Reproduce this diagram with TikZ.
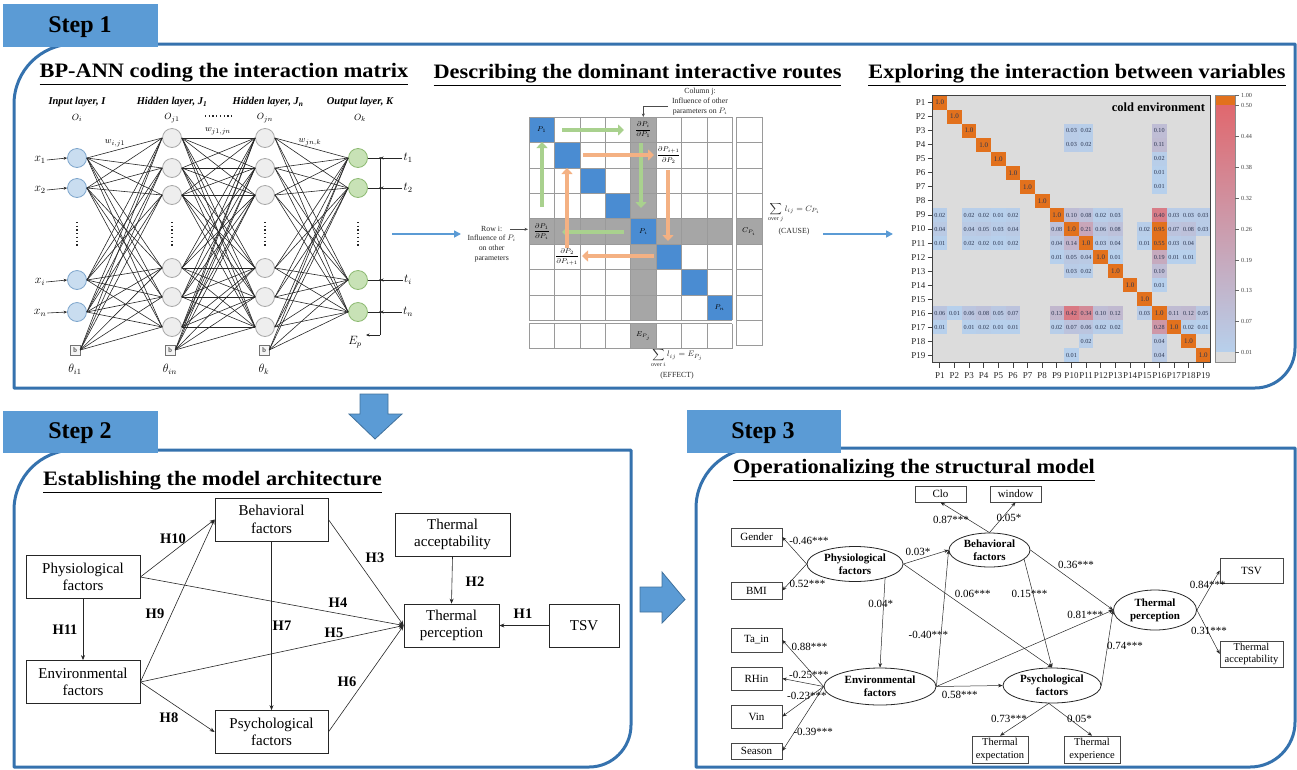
\documentclass[tikz,border=0pt]{standalone}
\usepackage{fontspec}
\setmainfont{Liberation Serif}
\usepackage{amsmath}
\usepackage{graphicx}
\usetikzlibrary{arrows.meta,shapes.geometric,calc}

\newcommand{\myfs}[2]{\fontsize{#1}{#2}\selectfont}
\newcommand{\paneltitle}[1]{\scalebox{1.09}[1]{\underline{\textbf{#1}}}}

\definecolor{framecol}{HTML}{3572AE}
\definecolor{tabcol}{HTML}{5B9BD5}
\definecolor{tabedge}{HTML}{41719C}
\definecolor{innode}{HTML}{C9DDF0}
\definecolor{inedge}{HTML}{7EA6CC}
\definecolor{hidnode}{HTML}{EEEEEE}
\definecolor{hidedge}{HTML}{A8A8A8}
\definecolor{outnode}{HTML}{C8E2B6}
\definecolor{outedge}{HTML}{8DBA72}
\definecolor{mxblue}{HTML}{4A8CD2}
\definecolor{mxgray}{HTML}{A6A6A6}
\definecolor{mxgrid}{HTML}{9A9A9A}
\definecolor{mxgreen}{HTML}{A9D18E}
\definecolor{mxorange}{HTML}{F4B183}
\definecolor{hmbg}{HTML}{DCDCDC}
\definecolor{hmorange}{HTML}{E2711D}
\definecolor{hmred}{HTML}{E0686E}
\definecolor{hmblue}{HTML}{B7D0EC}
\definecolor{hmtext}{HTML}{2B3550}
\definecolor{linecol}{HTML}{262626}

\tikzset{
  panel/.style={draw=framecol, line width=3pt, line join=round},
  steptab/.style={fill=tabcol},
  steplabel/.style={font=\bfseries\myfs{24}{26}, inner sep=0pt},
  titletext/.style={font=\myfs{20.5}{22}, inner sep=0pt, anchor=base},
  blockarrow/.style={fill=tabcol, draw=tabedge, line width=0.8pt, line join=miter},
  panelarrow/.style={draw=tabcol, line width=1.6pt, -{Triangle[length=7pt,width=7pt]}},
  annline/.style={draw=linecol, line width=0.6pt},
  inneuron/.style={circle, minimum size=19pt, inner sep=0pt, fill=innode, draw=inedge, line width=0.8pt},
  hidneuron/.style={inneuron, fill=hidnode, draw=hidedge},
  outneuron/.style={inneuron, fill=outnode, draw=outedge},
  biasbox/.style={draw=black!55, fill=black!4, minimum size=10pt, inner sep=0pt, font=\myfs{7}{8}},
  layerhead/.style={font=\bfseries\itshape\myfs{10.5}{12}, inner sep=0pt},
  annmath/.style={font=\myfs{11.5}{12}, inner sep=1pt},
  smallmath/.style={font=\myfs{9.5}{10}, inner sep=0pt},
  dotcol/.style={draw=linecol, line width=1.3pt, dash pattern=on 1.3pt off 2.4pt},
  mxline/.style={draw=mxgrid, line width=0.6pt},
  fatgreen/.style={draw=mxgreen, line width=4.5pt, -{Triangle[length=6pt,width=11pt]}},
  fatorange/.style={fatgreen, draw=mxorange},
  mxnote/.style={font=\myfs{7.8}{9.8}, align=center, inner sep=0pt, text=black!85},
  mxsum/.style={font=\myfs{8.5}{10}, align=center, inner sep=0pt, text=black!85},
  mxcell/.style={font=\myfs{7}{7.5}, inner sep=0pt},
  ptr/.style={draw=black!70, line width=0.5pt, -{Stealth[length=3.5pt,width=3pt]}},
  hmval/.style={font=\myfs{6.2}{7}, text=hmtext, inner sep=0pt},
  hmdiag/.style={font=\myfs{7}{8}, text=hmtext, inner sep=0pt},
  hmlab/.style={font=\myfs{9}{10}, inner sep=0pt, text=black!85},
  hmtick/.style={draw=black!75, line width=0.8pt},
  s2box/.style={draw=linecol, line width=0.8pt, align=center, font=\myfs{15}{17.5}, inner sep=0pt},
  s2edge/.style={draw=linecol, line width=0.6pt, -{Stealth[length=5pt,width=4pt]}},
  s2lab/.style={font=\bfseries\myfs{14.5}{16}, inner sep=0pt},
  s3box/.style={draw=linecol!85, line width=0.6pt, font=\myfs{11}{12}, align=center, inner sep=0pt},
  s3lat/.style={ellipse, draw=linecol, line width=0.8pt, font=\bfseries\myfs{11}{13}, align=center, inner sep=0pt},
  s3edge/.style={draw=linecol, line width=0.5pt, -{Stealth[length=4.5pt,width=3.5pt]}},
  s3coef/.style={font=\myfs{11}{12}, inner sep=0pt},
}

\begin{document}
\begin{tikzpicture}[x=1pt, y=-1pt]
\useasboundingbox (0,0) rectangle (1297,769);

% ---------- panel frames ----------
\draw[panel] (14,388) -- (14,104) arc[start angle=180,end angle=270,radius=60] -- (1295,44) -- (1295,348) arc[start angle=0,end angle=90,radius=40] -- cycle;
\draw[panel] (14,767) -- (14,510) arc[start angle=180,end angle=270,radius=60] -- (631,450) -- (631,725) arc[start angle=0,end angle=90,radius=42] -- cycle;
\draw[panel] (696,767) -- (696,508) arc[start angle=180,end angle=270,radius=60] -- (1295,448) -- (1295,722) arc[start angle=0,end angle=90,radius=45] -- cycle;

% ---------- step tabs ----------
\fill[steptab] (3,4) rectangle (158,47);
\node[steplabel] (st1) at (80,27) {Step 1};
\fill[steptab] (3,411) rectangle (158,453);
\node[steplabel] (st2) at (80,433) {Step 2};
\fill[steptab] (687,410) rectangle (841,453);
\node[steplabel] (st3) at (763,433) {Step 3};

% ---------- block arrows between steps ----------
\draw[blockarrow] (360,394) -- (388,394) -- (388,414) -- (402,414) -- (375,439) -- (349,414) -- (360,414) -- cycle;
\draw[blockarrow] (640,587) -- (662,587) -- (662,572) -- (685,599.5) -- (662,623) -- (662,612) -- (640,612) -- cycle;

% ---------- panel titles ----------
\node[titletext] (t1a) at (224,77) {\paneltitle{BP-ANN coding the interaction matrix}};
\node[titletext] (t1b) at (637.5,78) {\paneltitle{Describing the dominant interactive routes}};
\node[titletext] (t1c) at (1077,78) {\paneltitle{Exploring the interaction between variables}};
\node[titletext] (t2) at (212.5,485) {\paneltitle{Establishing the model architecture}};
\node[titletext] (t3) at (914,473) {\paneltitle{Operationalizing the structural model}};

% ================= BP-ANN =================
\node[layerhead] (lh1) at (77,102) {Input layer, I};
\node[layerhead] (lh2) at (172,102) {Hidden layer, J\textsubscript{1}};
\node[layerhead] (lh3) at (268,102) {Hidden layer, J\textsubscript{\textit{n}}};
\node[layerhead] (lh4) at (360,102) {Output layer, K};
\node[smallmath] (ol1) at (77,118) {$O_i$};
\node[smallmath] (ol2) at (172,118) {$O_{j1}$};
\node[smallmath] (ol3) at (265,118) {$O_{jn}$};
\node[smallmath] (ol4) at (360,118) {$O_k$};
\node[smallmath] (wl1) at (115,143) {$w_{i,j1}$};
\node[smallmath] (wl2) at (218,131) {$w_{j1,jn}$};
\node[smallmath] (wl3) at (310,142) {$w_{jn,k}$};
\draw[dotcol] (205,116) -- (233,116);

\foreach \n/\y in {1/158,2/188,3/280,4/312} \node[inneuron] (i\n) at (77,\y) {};
\foreach \n/\y in {1/138,2/168,3/195,4/268,5/297,6/327} {
  \node[hidneuron] (h\n) at (172,\y) {};
  \node[hidneuron] (g\n) at (265,\y) {};
}
\foreach \n/\y in {1/158,2/188,3/280,4/312} \node[outneuron] (o\n) at (358,\y) {};
\node[biasbox] (bi) at (75,350) {b};
\node[biasbox] (bh) at (170,350) {b};
\node[biasbox] (bg) at (264,350) {b};

\foreach \a in {i1,i2,i3,i4,bi} \foreach \b in {h1,h2,h3,h4,h5,h6} \draw[annline] (\a.east) -- (\b.west);
\foreach \a in {h1,h2,h3,h4,h5,h6,bh} \foreach \b in {g1,g2,g3,g4,g5,g6} \draw[annline] (\a.east) -- (\b.west);
\foreach \a in {g1,g2,g3,g4,g5,g6,bg} \foreach \b in {o1,o2,o3,o4} \draw[annline] (\a.east) -- (\b.west);

\foreach \x in {77,172,265,358} \draw[dotcol] (\x,222) -- (\x,246);

\node[annmath] (th1) at (75,369) {$\theta_{i1}$};
\node[annmath] (th2) at (170,369) {$\theta_{in}$};
\node[annmath] (th3) at (264,369) {$\theta_{k}$};

\foreach \n/\y/\lab in {1/160/x_1,2/190/x_2,3/282/x_i,4/313/x_n} {
  \node[annmath] (x\n) at (40,\y) {$\lab$};
  \draw[annline,-{Stealth[length=3.5pt,width=3pt]}] (x\n.east) -- (i\n.west);
}
\foreach \n/\y/\lab in {1/158/t_1,2/188/t_2,3/280/t_i,4/312/t_n} {
  \node[annmath] (tt\n) at (408,\y) {$\lab$};
  \coordinate (jn\n) at (380,\y);
  \draw[annline] (o\n.east) -- (jn\n);
  \draw[annline,-{Stealth[length=3.5pt,width=3pt]}] (tt\n.west) -- (jn\n);
  \fill[linecol] (jn\n) circle[radius=1];
}
\coordinate (jnb) at (380,335);
\coordinate (epa) at (366,335);
\draw[annline] (jn1) -- (jnb);
\draw[annline,-{Stealth[length=3.5pt,width=3pt]}] (jnb) -- (epa);
\node[annmath] (ep) at (355,342) {$E_p$};

% ================= interaction matrix =================
% shaded cross of row i / column j
\fill[mxgray] (630.6,117) rectangle (656,320.2);
\fill[mxgray] (630.6,323.5) rectangle (656,348.5);
\fill[mxgray] (529,218.6) rectangle (732.2,244);
\fill[mxgray] (736,218.6) rectangle (762,244);
\foreach \i in {0,...,7} \fill[mxblue] ({529+\i*25.4},{117+\i*25.4}) rectangle ++(25.4,25.4);
% grid
\foreach \i in {0,...,8} {
  \draw[mxline] ({529+\i*25.4},117) -- ({529+\i*25.4},320.2);
  \draw[mxline] (529,{117+\i*25.4}) -- (732.2,{117+\i*25.4});
  \draw[mxline] ({529+\i*25.4},323.5) -- ({529+\i*25.4},348.5);
  \draw[mxline] (736,{117+\i*25.4}) -- (762,{117+\i*25.4});
}
\draw[mxline] (529,323.5) -- (732.2,323.5);
\draw[mxline] (529,348.5) -- (732.2,348.5);
\draw[mxline] (736,117) -- (736,345) -- (762,345) -- (762,117);

\node[mxcell] (pc1) at (541.7,129.7) {$P_1$};
\node[mxcell] (pci) at (643.3,231.3) {$P_i$};
\node[mxcell] (pcn) at (719.5,307.5) {$P_n$};
\node[mxcell] (f1) at (643.3,129.7) {$\dfrac{\partial P_i}{\partial P_1}$};
\node[mxcell] (f2) at (668.7,155.1) {$\dfrac{\partial P_{i+1}}{\partial P_2}$};
\node[mxcell] (f3) at (541.7,231.3) {$\dfrac{\partial P_1}{\partial P_i}$};
\node[mxcell] (f4) at (567.1,256.7) {$\dfrac{\partial P_2}{\partial P_{i+1}}$};
\node[mxcell] (cpi) at (749,231.3) {$C_{P_i}$};
\node[mxcell] (epj) at (643.3,336) {$E_{P_j}$};

% dominant routes
\coordinate (ga1) at (562,130);   \coordinate (ga2) at (624,130);
\coordinate (gb1) at (641,143);   \coordinate (gb2) at (641,208);
\coordinate (gc1) at (624,232);   \coordinate (gc2) at (562,232);
\coordinate (gd1) at (542,207);   \coordinate (gd2) at (542,142);
\draw[fatgreen] (ga1) -- (ga2);
\draw[fatgreen] (gb1) -- (gb2);
\draw[fatgreen] (gc1) -- (gc2);
\draw[fatgreen] (gd1) -- (gd2);
\coordinate (oa1) at (583,155);   \coordinate (oa2) at (654,155);
\coordinate (ob1) at (668,170);   \coordinate (ob2) at (668,241);
\coordinate (oc1) at (654,256);   \coordinate (oc2) at (582,256);
\coordinate (od1) at (567,248);   \coordinate (od2) at (567,168);
\draw[fatorange] (oa1) -- (oa2);
\draw[fatorange] (ob1) -- (ob2);
\draw[fatorange] (oc1) -- (oc2);
\draw[fatorange] (od1) -- (od2);

\node[mxnote] (colj) at (700,101.5) {Column j:\\Influence of other\\parameters on $P_i$};
\coordinate (cjs) at (668,106.5);
\coordinate (cje) at (643.3,117);
\draw[ptr] (cjs) -| (cje);
\node[mxnote] (rowi) at (491.7,244) {Row i:\\Influence of $P_i$\\on other\\parameters};
\coordinate (ris) at (510,229.3);
\coordinate (rie) at (528,229.3);
\draw[ptr] (ris) -- (rie);
\node[mxsum] (sumc) at (794,213) {$\displaystyle\sum_{\mathrm{over}\,j} l_{ij}=C_{P_i}$};
\node[mxnote] (cause) at (794,232) {(CAUSE)};
\node[mxsum] (sume) at (677,358) {$\displaystyle\sum_{\mathrm{over}\,i} l_{ij}=E_{P_j}$};
\node[mxnote] (effect) at (677,376) {(EFFECT)};

% flow between the three parts of step 1
\coordinate (fa1) at (392,234); \coordinate (fa2) at (461,234);
\coordinate (fb1) at (823,234); \coordinate (fb2) at (893,234);
\draw[panelarrow] (fa1) -- (fa2);
\draw[panelarrow] (fb1) -- (fb2);

% ================= heat map =================
\fill[hmbg] (932.5,95.5) rectangle (1210.5,362.45);
\foreach \r/\c/\v in {
 3/10/0.03, 3/11/0.02, 3/16/0.10,
 4/10/0.03, 4/11/0.02, 4/16/0.11,
 5/16/0.02, 6/16/0.01, 7/16/0.01,
 9/1/0.02, 9/3/0.02, 9/4/0.02, 9/5/0.01, 9/6/0.02, 9/10/0.10, 9/11/0.08, 9/12/0.02, 9/13/0.03, 9/16/0.40, 9/17/0.03, 9/18/0.03, 9/19/0.03,
 10/1/0.04, 10/3/0.04, 10/4/0.05, 10/5/0.03, 10/6/0.04, 10/9/0.08, 10/11/0.21, 10/12/0.06, 10/13/0.08, 10/15/0.02, 10/16/0.95, 10/17/0.07, 10/18/0.08, 10/19/0.03,
 11/1/0.01, 11/3/0.02, 11/4/0.02, 11/5/0.01, 11/6/0.02, 11/9/0.04, 11/10/0.14, 11/12/0.03, 11/13/0.04, 11/15/0.01, 11/16/0.55, 11/17/0.03, 11/18/0.04,
 12/9/0.01, 12/10/0.05, 12/11/0.04, 12/13/0.01, 12/16/0.19, 12/17/0.01, 12/18/0.01,
 13/10/0.03, 13/11/0.02, 13/16/0.10,
 14/16/0.01,
 16/1/0.06, 16/2/0.01, 16/3/0.06, 16/4/0.08, 16/5/0.05, 16/6/0.07, 16/9/0.13, 16/10/0.42, 16/11/0.34, 16/12/0.10, 16/13/0.12, 16/15/0.03, 16/17/0.11, 16/18/0.12, 16/19/0.05,
 17/1/0.01, 17/3/0.01, 17/4/0.02, 17/5/0.01, 17/6/0.01, 17/9/0.02, 17/10/0.07, 17/11/0.06, 17/12/0.02, 17/13/0.02, 17/16/0.28, 17/18/0.02, 17/19/0.01,
 18/11/0.02, 18/16/0.04,
 19/10/0.01, 19/16/0.04} {
  \pgfmathsetmacro{\pc}{min(100,max(0,(\v-0.01)/0.49*100))}
  \pgfmathsetmacro{\xa}{932.5+(\c-1)*14.63}
  \pgfmathsetmacro{\ya}{95.5+(\r-1)*14.05}
  \ifdim\v pt>0.5pt \def\cc{hmorange}\else\def\cc{hmred!\pc!hmblue}\fi
  \fill[fill=\cc] (\xa,\ya) rectangle ++(14.63,14.05);
  \node[hmval] (hv\r-\c) at ({\xa+7.3},{\ya+7.1}) {\v};
}
\foreach \i in {1,...,19} {
  \pgfmathsetmacro{\xa}{932.5+(\i-1)*14.63}
  \pgfmathsetmacro{\ya}{95.5+(\i-1)*14.05}
  \fill[hmorange] (\xa,\ya) rectangle ++(14.63,14.05);
  \node[hmdiag] (hd\i) at ({\xa+7.3},{\ya+7.1}) {1.0};
  \pgfmathsetmacro{\xc}{932.5+(\i-0.5)*14.63}
  \pgfmathsetmacro{\yc}{95.5+(\i-0.5)*14.05}
  \draw[hmtick] (927.5,\yc) -- (932.5,\yc);
  \node[hmlab, anchor=east] (hr\i) at (925.5,\yc) {P\i};
  \draw[hmtick] (\xc,362.45) -- (\xc,367.5);
  \node[hmlab] (hc\i) at (\xc,375.5) {P\i};
}
\draw[draw=black!75, line width=1pt] (932.5,95.5) rectangle (1210.5,362.45);
\node[font=\bfseries\myfs{12.5}{14}, inner sep=0pt] (cold) at (1158.5,107) {cold environment};

% colour bar
\fill[hmorange] (1215,95) rectangle (1235,105);
\shade[top color=hmred, bottom color=hmblue] (1215,105) rectangle (1235,352);
\fill[hmbg] (1215,352) rectangle (1235,362);
\draw[draw=black!45, line width=0.6pt] (1215,95) rectangle (1235,362);
\foreach \v/\y in {1.00/95, 0.50/105, 0.44/136, 0.38/167, 0.32/198, 0.26/229, 0.19/260, 0.13/290, 0.07/321, 0.01/352} {
  \draw[draw=black!60, line width=0.5pt] (1235,\y) -- (1239,\y);
  \node[hmval, anchor=west, text=black!75] (cb\y) at (1241,\y) {\v};
}

% ================= step 2: hypothesised model =================
\node[s2box, minimum width=114pt, minimum height=43pt] (phy) at (83,577) {Physiological\\factors};
\node[s2box, minimum width=114pt, minimum height=43pt] (env) at (83,682) {Environmental\\factors};
\node[s2box, minimum width=113pt, minimum height=43pt] (beh) at (271.5,519.5) {Behavioral\\factors};
\node[s2box, minimum width=113pt, minimum height=43pt] (psy) at (271.5,732) {Psychological\\factors};
\node[s2box, minimum width=115pt, minimum height=43pt] (tac) at (452.5,534.5) {Thermal\\acceptability};
\node[s2box, minimum width=95pt, minimum height=43pt] (tpc) at (451.5,625.5) {Thermal\\perception};
\node[s2box, minimum width=70pt, minimum height=43pt] (tsv) at (584,625.5) {TSV};

\draw[s2edge] (phy.east) -- (beh.west);
\draw[s2edge] (env.east) -- (beh.west);
\draw[s2edge] (env.east) -- (psy.west);
\draw[s2edge] (phy.south) -- (env.north);
\draw[s2edge] (beh.south) -- (psy.north);
\draw[s2edge] (beh.east) -- (tpc.west);
\draw[s2edge] (phy.east) -- (tpc.west);
\draw[s2edge] (env.east) -- (tpc.west);
\draw[s2edge] (psy.east) -- (tpc.west);
\draw[s2edge] (tac.south) -- (tpc.north);
\draw[s2edge] (tsv.west) -- (tpc.east);

\node[s2lab] (h10) at (173,539) {H10};
\node[s2lab] (h11) at (65,630) {H11};
\node[s2lab] (h9) at (155,614) {H9};
\node[s2lab] (h8) at (169,718) {H8};
\node[s2lab] (h7) at (282,626) {H7};
\node[s2lab] (h3) at (375,558) {H3};
\node[s2lab] (h4) at (338,603) {H4};
\node[s2lab] (h5) at (334,633) {H5};
\node[s2lab] (h6) at (347,682) {H6};
\node[s2lab] (h2) at (475,582) {H2};
\node[s2lab] (h1) at (523,614) {H1};

% ================= step 3: structural model =================
\node[s3box, minimum width=51pt, minimum height=16pt] (clo) at (940.5,494) {Clo};
\node[s3box, minimum width=51pt, minimum height=16pt] (win) at (1015.5,494) {window};
\node[s3box, minimum width=51pt, minimum height=18pt] (gen) at (756.5,537) {Gender};
\node[s3box, minimum width=51pt, minimum height=17pt] (bmi) at (756.5,590.5) {BMI};
\node[s3box, minimum width=51pt, minimum height=24pt] (tain) at (756.5,640) {Ta\_in};
\node[s3box, minimum width=51pt, minimum height=23pt] (rhin) at (756.5,678.5) {RHin};
\node[s3box, minimum width=51pt, minimum height=23pt] (vin) at (756.5,716.5) {Vin};
\node[s3box, minimum width=51pt, minimum height=16pt] (sea) at (756.5,751) {Season};
\node[s3box, minimum width=63pt, minimum height=25pt] (stsv) at (1251.5,570.5) {TSV};
\node[s3box, minimum width=63pt, minimum height=26pt, font=\myfs{10.5}{12.5}] (stac) at (1251.5,654) {Thermal\\acceptability};
\node[s3box, minimum width=56pt, minimum height=27pt, font=\myfs{10.5}{12.5}] (texp) at (1000,749.5) {Thermal\\expectation};
\node[s3box, minimum width=56pt, minimum height=27pt, font=\myfs{10.5}{12.5}] (texr) at (1092,749.5) {Thermal\\experience};

\node[s3lat, minimum width=96pt, minimum height=35pt] (pe) at (855,564) {Physiological\\factors};
\node[s3lat, minimum width=81pt, minimum height=34pt] (be) at (989.5,550) {Behavioral\\factors};
\node[s3lat, minimum width=112pt, minimum height=37pt] (ee) at (880,686.5) {Environmental\\factors};
\node[s3lat, minimum width=98pt, minimum height=35pt] (ps) at (1052,685.5) {Psychological\\factors};
\node[s3lat, minimum width=83pt, minimum height=40pt] (tp) at (1155,610) {Thermal\\perception};

\draw[s3edge] (be.north) -- (clo.south);
\draw[s3edge] (be.north) -- (win.south);
\draw[s3edge] (pe.west) -- (gen.east);
\draw[s3edge] (pe.west) -- (bmi.east);
\draw[s3edge] (pe.east) -- (be.west);
\draw[s3edge] (pe.-25) -- (ee.north);
\draw[s3edge] (pe.east) -- (ps.north);
\draw[s3edge] (ee.east) -- (be.west);
\draw[s3edge] (be.-15) -- (ps.north);
\draw[s3edge] (be.east) -- (tp.west);
\draw[s3edge] (ee.east) -- (tp.west);
\draw[s3edge] (ee.east) -- (ps.west);
\draw[s3edge] (ps.east) -- (tp.west);
\draw[s3edge] (tp.east) -- (stsv.west);
\draw[s3edge] (tp.east) -- (stac.west);
\draw[s3edge] (ee.west) -- (tain.east);
\draw[s3edge] (ee.west) -- (rhin.east);
\draw[s3edge] (ee.west) -- (vin.east);
\draw[s3edge] (ee.west) -- (sea.east);
\draw[s3edge] (ps.-100) -- (texp.north);
\draw[s3edge] (ps.-100) -- (texr.north);

\node[s3coef] (c1) at (951,520) {0.87***};
\node[s3coef] (c2) at (1009,518) {0.05*};
\node[s3coef] (c3) at (809,541) {-0.46***};
\node[s3coef] (c4) at (807.5,583.5) {0.52***};
\node[s3coef] (c5) at (918,552) {0.03*};
\node[s3coef] (c6) at (880.7,603.5) {0.04*};
\node[s3coef] (c7) at (972.8,594) {0.06***};
\node[s3coef] (c8) at (1029.5,593.5) {0.15***};
\node[s3coef] (c9) at (1075.9,564.5) {0.36***};
\node[s3coef] (c10) at (1085.3,615) {0.81***};
\node[s3coef] (c11) at (928.3,635) {-0.40***};
\node[s3coef] (c12) at (959.8,695) {0.58***};
\node[s3coef] (c13) at (1125.1,646) {0.74***};
\node[s3coef] (c14) at (1207.7,585) {0.84***};
\node[s3coef] (c15) at (1208.9,631) {0.31***};
\node[s3coef] (c16) at (809.5,647) {0.88***};
\node[s3coef] (c17) at (808.9,674.5) {-0.25***};
\node[s3coef] (c18) at (806.9,696) {-0.23***};
\node[s3coef] (c19) at (813.2,732) {-0.39***};
\node[s3coef] (c20) at (1009,718.5) {0.73***};
\node[s3coef] (c21) at (1079.5,718.5) {0.05*};

\end{tikzpicture}
\end{document}
